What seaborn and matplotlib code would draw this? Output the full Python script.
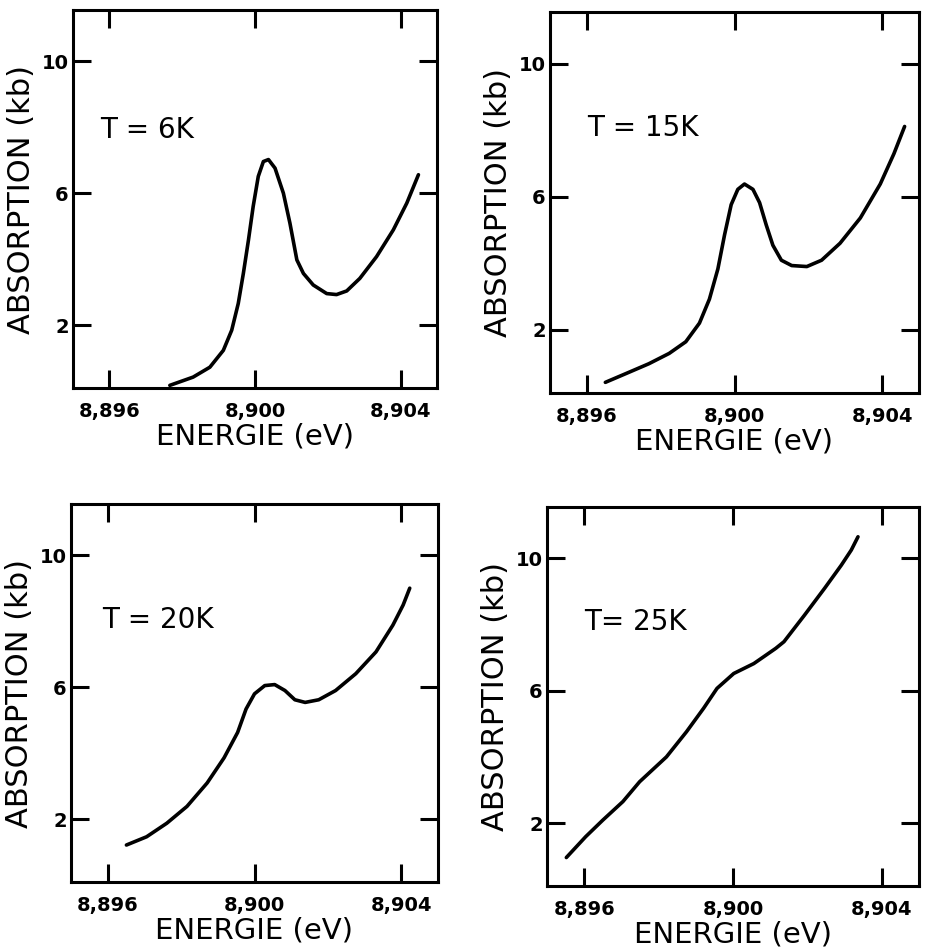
import numpy as np
import pandas as pd
import matplotlib
matplotlib.use("Agg")
import matplotlib.pyplot as plt
import seaborn as sns

# ---- data ----
labels = ["T = 6K", "T = 15K", "T = 20K", "T= 25K"]

e_6k = [8.89766, 8.8983, 8.89876, 8.89913, 8.89936, 8.89954, 8.89968, 8.89982, 8.89995,
        8.90009, 8.90023, 8.90037, 8.90055, 8.90078, 8.90096, 8.90115, 8.90133, 8.9016,
        8.90197, 8.90224, 8.90252, 8.90288, 8.90334, 8.9038, 8.90417, 8.90449]
a_6k = [0.18, 0.43, 0.73, 1.24, 1.85, 2.66, 3.57, 4.58, 5.6,
        6.51, 6.96, 7.02, 6.76, 6.0, 5.09, 3.98, 3.57, 3.22,
        2.96, 2.93, 3.04, 3.42, 4.08, 4.89, 5.7, 6.56]

e_15k = [8.8965, 8.89705, 8.89768, 8.89823, 8.89868, 8.89905, 8.89932, 8.89955, 8.89973,
         8.89991, 8.90009, 8.90027, 8.9005, 8.90068, 8.90086, 8.90104, 8.90127, 8.90155,
         8.90196, 8.90236, 8.90286, 8.90341, 8.90395, 8.90432, 8.90461]
a_15k = [0.42, 0.68, 0.98, 1.29, 1.64, 2.2, 2.92, 3.83, 4.85,
         5.76, 6.22, 6.38, 6.22, 5.82, 5.15, 4.54, 4.09, 3.93,
         3.9, 4.09, 4.6, 5.36, 6.38, 7.29, 8.11]

e_20k = [8.89651, 8.89706, 8.89761, 8.89816, 8.89871, 8.89917, 8.89954, 8.89977, 8.9,
         8.90028, 8.90055, 8.90083, 8.9011, 8.90138, 8.90175, 8.90221, 8.90276, 8.90331,
         8.90377, 8.90405, 8.90423]
a_20k = [1.22, 1.47, 1.88, 2.39, 3.1, 3.86, 4.63, 5.34, 5.8,
         6.05, 6.08, 5.9, 5.62, 5.54, 5.62, 5.9, 6.41, 7.07,
         7.88, 8.49, 9.0]

e_25k = [8.89552, 8.89604, 8.8965, 8.89704, 8.89749, 8.89821, 8.89875, 8.89921, 8.89957,
         8.90002, 8.90056, 8.90083, 8.90115, 8.90137, 8.90192, 8.90246, 8.90291, 8.90318,
         8.90336]
a_25k = [0.96, 1.59, 2.09, 2.65, 3.25, 4.0, 4.76, 5.47, 6.07,
         6.52, 6.82, 7.03, 7.28, 7.48, 8.28, 9.09, 9.79, 10.25,
         10.65]

x_ticks = [8.896, 8.900, 8.904]
x_ticklabels = ["8,896", "8,900", "8,904"]
y_ticks = [2, 6, 10]
y_ticklabels = ["2", "6", "10"]

energies = [e_6k, e_15k, e_20k, e_25k]
absorps = [a_6k, a_15k, a_20k, a_25k]

# ---- style ----
sns.set_style("ticks")
plt.rcParams["font.family"] = ["DejaVu Sans"]
for key in ["text.color", "axes.labelcolor", "xtick.color", "ytick.color", "axes.edgecolor"]:
    plt.rcParams[key] = "black"

W, H = 928, 951
fig = plt.figure(figsize=(W / 100, H / 100), dpi=100)

# axes boxes in pixels: left, top, right, bottom
boxes = [(73, 10, 437, 388), (550, 12, 919, 393),
         (71, 504, 438, 882), (547, 507, 919, 886)]
text_pos = [(0.074, 0.683), (0.10, 0.695), (0.084, 0.693), (0.099, 0.697)]

for i in range(4):
    l, t, r, b = boxes[i]
    ax = fig.add_axes([l / W, 1 - b / H, (r - l) / W, (b - t) / H])
    df = pd.DataFrame({"E": energies[i], "A": absorps[i]})
    sns.lineplot(data=df, x="E", y="A", ax=ax, color="black", linewidth=2.6,
                 sort=False, estimator=None)
    ax.lines[-1].set_solid_joinstyle("round")
    ax.lines[-1].set_solid_capstyle("round")
    ax.set_xlim(8.895, 8.905)
    ax.set_ylim(0.1, 11.55)
    ax.set_xticks(x_ticks)
    ax.set_xticklabels(x_ticklabels, fontsize=14, fontweight="bold")
    ax.set_yticks(y_ticks)
    ax.set_yticklabels(y_ticklabels, fontsize=14, fontweight="bold")
    ax.tick_params(axis="x", direction="in", length=13, width=2.2, top=True,
                   bottom=True, pad=10)
    ax.tick_params(axis="y", direction="in", length=13, width=2.2, left=True,
                   right=True, pad=3)
    for sp in ax.spines.values():
        sp.set_visible(True)
        sp.set_linewidth(2.2)
        sp.set_color("black")
    ax.set_xlabel("ENERGIE (eV)", fontsize=21, labelpad=1)
    ax.set_ylabel("ABSORPTION (kb)", fontsize=22, labelpad=4)
    ax.text(text_pos[i][0], text_pos[i][1], labels[i], transform=ax.transAxes,
            fontsize=20, ha="left", va="center")

fig.savefig("out.png", dpi=100, facecolor="white")
